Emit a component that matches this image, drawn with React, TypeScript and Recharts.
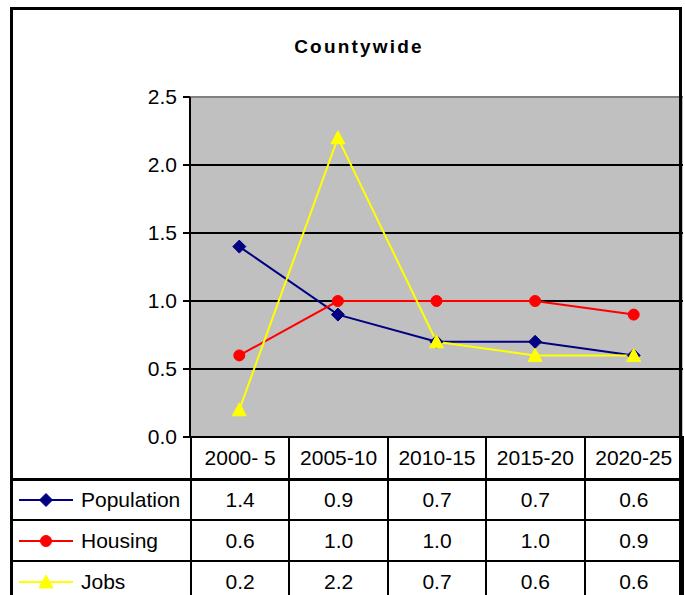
import React from "react";
import {
  CartesianGrid,
  Line,
  LineChart,
  ReferenceLine,
  XAxis,
  YAxis,
} from "recharts";

const periods = ["2000- 5", "2005-10", "2010-15", "2015-20", "2020-25"];
const population = [1.4, 0.9, 0.7, 0.7, 0.6];
const housing = [0.6, 1.0, 1.0, 1.0, 0.9];
const jobs = [0.2, 2.2, 0.7, 0.6, 0.6];
const yTicks = [0, 0.5, 1, 1.5, 2, 2.5];

const FONT = "'Liberation Sans', Arial, sans-serif";
const NAVY = "#000080";
const RED = "#FF0000";
const YELLOW = "#FFFF00";

const chartData = periods.map((p, i) => ({
  period: p,
  population: population[i],
  housing: housing[i],
  jobs: jobs[i],
}));

const series = [
  { key: "population", name: "Population", color: NAVY, values: population },
  { key: "housing", name: "Housing", color: RED, values: housing },
  { key: "jobs", name: "Jobs", color: YELLOW, values: jobs },
];

function marker(kind: string, cx: number, cy: number, key?: string | number) {
  if (kind === "population") {
    return (
      <path
        key={key}
        d={`M${cx},${cy - 6.5}L${cx + 6.5},${cy}L${cx},${cy + 6.5}L${cx - 6.5},${cy}Z`}
        fill={NAVY}
        stroke={NAVY}
      />
    );
  }
  if (kind === "housing") {
    return <circle key={key} cx={cx} cy={cy} r={5.5} fill={RED} stroke={RED} />;
  }
  return (
    <path
      key={key}
      d={`M${cx},${cy - 7}L${cx + 7},${cy + 6}L${cx - 7},${cy + 6}Z`}
      fill={YELLOW}
      stroke={YELLOW}
    />
  );
}

function LegendIcon({ kind, color }: { kind: string; color: string }) {
  return (
    <svg width={58} height={20} style={{ display: "block", flex: "none" }}>
      <line x1={2} y1={10} x2={56} y2={10} stroke={color} strokeWidth={2} />
      {marker(kind, 29, 10)}
    </svg>
  );
}

const cellText: React.CSSProperties = {
  fontFamily: FONT,
  fontSize: 21,
  color: "#000",
  textAlign: "center",
  padding: 0,
};

export default function App() {
  const colW = 98.4;
  return (
    <div
      style={{
        position: "absolute",
        left: 0,
        top: 0,
        width: 685,
        height: 595,
        background: "#fff",
        overflow: "hidden",
      }}
    >
      <div
        style={{
          position: "absolute",
          left: 0,
          top: 37,
          width: 718,
          textAlign: "center",
          fontFamily: FONT,
          fontWeight: "bold",
          fontSize: 19,
          lineHeight: "19px",
          letterSpacing: 2.2,
        }}
      >
        Countywide
      </div>

      <div style={{ position: "absolute", left: 0, top: 0 }}>
        <LineChart
          width={685}
          height={595}
          data={chartData}
          margin={{ top: 97, right: 2, bottom: 158, left: 130 }}
        >
          <CartesianGrid
            vertical={false}
            stroke="#000"
            strokeWidth={2}
            fill="#C0C0C0"
            fillOpacity={1}
          />
          <ReferenceLine y={2.5} stroke="#808080" strokeWidth={2} />
          <XAxis dataKey="period" scale="band" hide />
          <YAxis
            width={60}
            domain={[0, 2.5]}
            ticks={yTicks}
            interval={0}
            tickFormatter={(v: number) => v.toFixed(1)}
            tick={{ fontSize: 21, fill: "#000", fontFamily: FONT }}
            tickSize={7}
            tickMargin={6}
            axisLine={{ stroke: "#000", strokeWidth: 2 }}
            tickLine={{ stroke: "#000", strokeWidth: 2 }}
          />
          {series.map((s) => (
            <Line
              key={s.key}
              dataKey={s.key}
              stroke={s.color}
              strokeWidth={2}
              isAnimationActive={false}
              dot={(p: any) => marker(s.key, p.cx, p.cy, `${s.key}-${p.index}`)}
              activeDot={false}
            />
          ))}
        </LineChart>
      </div>

      <table
        style={{
          position: "absolute",
          left: 11,
          top: 436,
          width: 672,
          borderCollapse: "collapse",
          tableLayout: "fixed",
        }}
      >
        <colgroup>
          <col style={{ width: 179 }} />
          {periods.map((p) => (
            <col key={p} style={{ width: colW }} />
          ))}
        </colgroup>
        <tbody>
          <tr style={{ height: 42 }}>
            <td style={{ ...cellText, borderBottom: "3px solid #000" }} />
            {periods.map((p) => (
              <td
                key={p}
                style={{
                  ...cellText,
                  border: "2px solid #000",
                  borderBottom: "3px solid #000",
                }}
              >
                {p}
              </td>
            ))}
          </tr>
          {series.map((s) => (
            <tr key={s.key} style={{ height: 41 }}>
              <td style={{ ...cellText, textAlign: "left", border: "2px solid #000" }}>
                <div
                  style={{
                    display: "flex",
                    alignItems: "center",
                    gap: 6,
                    paddingLeft: 4,
                  }}
                >
                  <LegendIcon kind={s.key} color={s.color} />
                  <span>{s.name}</span>
                </div>
              </td>
              {s.values.map((v, i) => (
                <td key={i} style={{ ...cellText, border: "2px solid #000" }}>
                  {v.toFixed(1)}
                </td>
              ))}
            </tr>
          ))}
        </tbody>
      </table>

      <div
        style={{
          position: "absolute",
          left: 10,
          top: 7,
          width: 672,
          height: 620,
          border: "3px solid #000",
          boxSizing: "border-box",
          pointerEvents: "none",
        }}
      />
    </div>
  );
}
